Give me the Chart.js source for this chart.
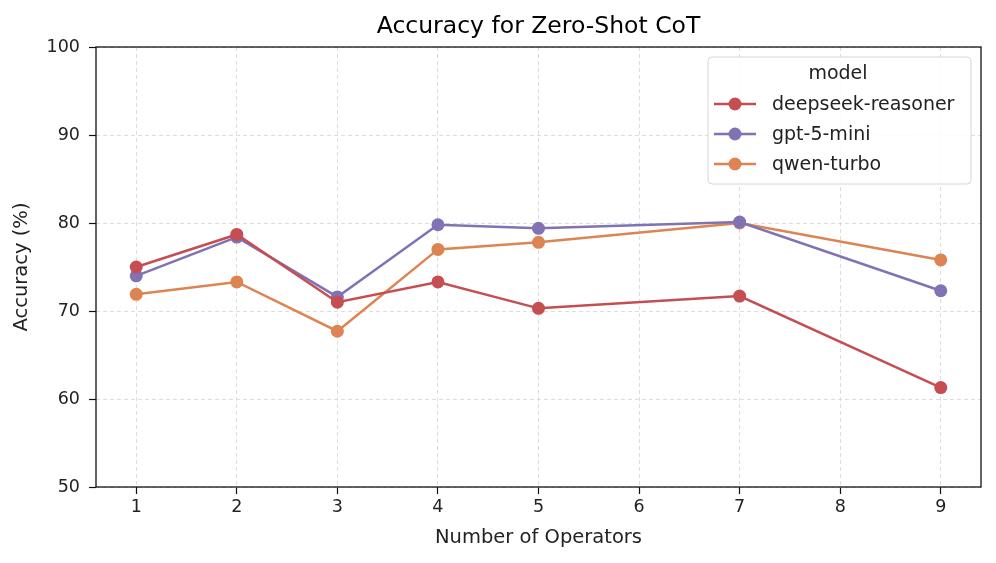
<!DOCTYPE html>
<html>
<head>
<meta charset="utf-8">
<script src="https://cdn.jsdelivr.net/npm/chart.js@4.4.0/dist/chart.umd.min.js"></script>
<style>
  html, body { margin: 0; padding: 0; background: #fff; }
  #wrap { width: 996px; height: 563px; }
</style>
</head>
<body>
<div id="wrap"><canvas id="chart" width="996" height="563"></canvas></div>
<script>
// values
let operators = [1, 2, 3, 4, 5, 7, 9];
let deepseekReasoner = [75.0, 78.7, 71.0, 73.3, 70.3, 71.7, 61.3];
let gpt5Mini = [74.0, 78.4, 71.6, 79.8, 79.4, 80.1, 72.3];
let qwenTurbo = [71.9, 73.3, 67.7, 77.0, 77.8, 80.0, 75.8];
let xTicks = [1, 2, 3, 4, 5, 6, 7, 8, 9];
let yTicks = [50, 60, 70, 80, 90, 100];

const FONT = "'DejaVu Sans', sans-serif";

function points(vals) {
    return operators.map((x, i) => ({x: x, y: vals[i]}));
}

function series(label, vals, color) {
    return {
        label: label,
        data: points(vals),
        borderColor: color,
        backgroundColor: color,
        borderWidth: 2.5,
        pointRadius: 6.5,
        pointHoverRadius: 6.5,
        pointBorderWidth: 0,
        fill: false,
        tension: 0
    };
}

// title, box frame and in-plot legend (matplotlib style)
const extras = {
    id: "extras",
    afterDraw(chart) {
        let ctx = chart.ctx;
        let a = chart.chartArea;
        ctx.save();

        ctx.strokeStyle = "#111";
        ctx.lineWidth = 1.3;
        ctx.strokeRect(a.left, a.top, a.right - a.left, a.bottom - a.top);

        ctx.fillStyle = "#000";
        ctx.font = "23.5px " + FONT;
        ctx.textAlign = "center";
        ctx.textBaseline = "middle";
        ctx.fillText("Accuracy for Zero-Shot CoT", (a.left + a.right) / 2, 27);

        // legend
        let lx = 708, ly = 57, lw = 263, lh = 127;
        ctx.fillStyle = "rgba(255,255,255,0.85)";
        ctx.strokeStyle = "#d6d6d6";
        ctx.lineWidth = 1;
        ctx.beginPath();
        ctx.roundRect(lx, ly, lw, lh, 4);
        ctx.fill();
        ctx.stroke();

        ctx.fillStyle = "#222";
        ctx.font = "19px " + FONT;
        ctx.textAlign = "center";
        ctx.fillText("model", lx + 130, 74);

        ctx.textAlign = "left";
        chart.data.datasets.forEach((ds, i) => {
            let y = 104 + i * 30;
            ctx.strokeStyle = ds.borderColor;
            ctx.lineWidth = 2.5;
            ctx.beginPath();
            ctx.moveTo(lx + 6, y);
            ctx.lineTo(lx + 48, y);
            ctx.stroke();
            ctx.fillStyle = ds.borderColor;
            ctx.beginPath();
            ctx.arc(lx + 27, y, 6.5, 0, Math.PI * 2);
            ctx.fill();
            ctx.fillStyle = "#222";
            ctx.fillText(ds.label, lx + 64, y + 1);
        });
        ctx.restore();
    }
};

const gridStyle = {
    color: "#d4d4d4",
    tickBorderDash: [],
    tickColor: "#111",
    tickLength: 7,
    tickWidth: 1.2,
    lineWidth: 0.8
};

new Chart("chart", {
    type: "line",
    data: {
        datasets: [
            series("deepseek-reasoner", deepseekReasoner, "#c44e52"),
            series("gpt-5-mini", gpt5Mini, "#8172b3"),
            series("qwen-turbo", qwenTurbo, "#dd8452")
        ]
    },
    options: {
        responsive: false,
        animation: false,
        layout: {padding: {top: 47, right: 15, left: 0, bottom: 0}},
        plugins: {
            legend: {display: false},
            title: {display: false},
            tooltip: {enabled: false}
        },
        scales: {
            x: {
                type: "linear",
                min: 0.6,
                max: 9.4,
                afterFit: s => { s.height = 76; },
                afterBuildTicks: s => { s.ticks = xTicks.map(v => ({value: v})); },
                ticks: {
                    color: "#222",
                    font: {family: FONT, size: 17.5},
                    padding: 3,
                    maxRotation: 0,
                    callback: v => String(v)
                },
                grid: gridStyle,
                border: {display: false, dash: [4, 3]},
                title: {
                    display: true,
                    text: "Number of Operators",
                    color: "#222",
                    font: {family: FONT, size: 19.5},
                    padding: {top: 0, bottom: 13}
                }
            },
            y: {
                min: 50,
                max: 100,
                afterFit: s => { s.width = 96; },
                afterBuildTicks: s => { s.ticks = yTicks.map(v => ({value: v})); },
                ticks: {
                    color: "#222",
                    font: {family: FONT, size: 17.5},
                    padding: 9,
                    callback: v => String(v)
                },
                grid: gridStyle,
                border: {display: false, dash: [4, 3]},
                title: {
                    display: true,
                    text: "Accuracy (%)",
                    color: "#222",
                    font: {family: FONT, size: 19.5},
                    padding: {top: 10, bottom: 0}
                }
            }
        }
    },
    plugins: [extras]
});
</script>
</body>
</html>
